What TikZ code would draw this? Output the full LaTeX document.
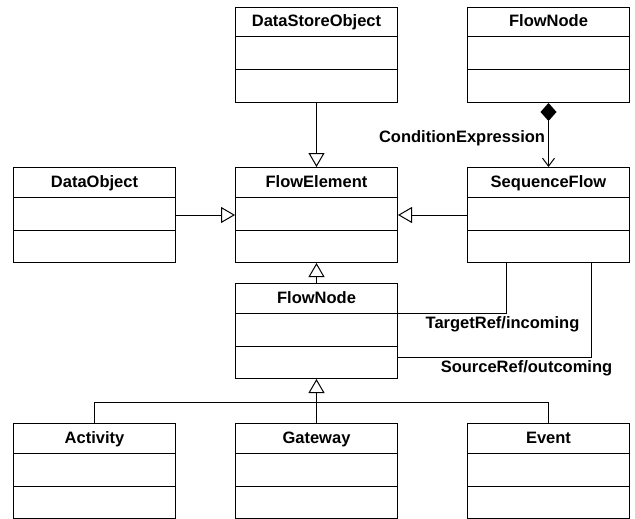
\documentclass[tikz,border=0pt]{standalone}
\usepackage{fontspec}
\setmainfont{Liberation Sans}
\usetikzlibrary{arrows.meta}
\tikzset{
  classbox/.style={draw, line width=1pt, minimum width=162pt, minimum height=95pt,
    inner sep=0pt, anchor=north west, fill=white},
  classtitle/.style={font=\bfseries\fontsize{16.5}{19}\selectfont, inner sep=0pt,
    text height=12pt, text depth=2pt},
  compline/.style={line width=1pt},
  gen/.style={line width=1pt, -{Triangle[open, length=14pt, width=16pt]}},
  comp/.style={line width=1pt, {Diamond[length=18pt, width=16pt]}-{Straight Barb[length=8pt, width=12pt]}},
  assoc/.style={line width=1pt},
  rolelabel/.style={font=\bfseries\fontsize{16.5}{19}\selectfont, inner sep=3pt},
}
% UML class box: name, left x, top y, title
\newcommand{\umlclass}[4]{%
  \node[classbox] (#1) at (#2,#3) {};
  \node[classtitle] (#1-title) at ([yshift=-15pt]#1.north) {#4};
  \draw[compline] ([yshift=-30pt]#1.north west) -- ([yshift=-30pt]#1.north east);
  \draw[compline] ([yshift=-63pt]#1.north west) -- ([yshift=-63pt]#1.north east);
}
\begin{document}
\begin{tikzpicture}[x=1pt, y=-1pt]
  \useasboundingbox (0,0) rectangle (635,519);

  % classes
  \umlclass{dso}{235}{7}{DataStoreObject}
  \umlclass{fntop}{467}{7}{FlowNode}
  \umlclass{dobj}{13}{167}{DataObject}
  \umlclass{fe}{235}{167}{FlowElement}
  \umlclass{sf}{467}{167}{SequenceFlow}
  \umlclass{fn}{235}{283}{FlowNode}
  \umlclass{act}{13}{423}{Activity}
  \umlclass{gw}{235}{423}{Gateway}
  \umlclass{ev}{467}{423}{Event}

  % generalisations
  \draw[gen] (dso.south) -- (fe.north);
  \draw[gen] (dobj.east) -- (fe.west);
  \draw[gen] (sf.west) -- (fe.east);
  \draw[gen] (fn.north) -- (fe.south);

  \coordinate (bus) at (316,402);
  \draw[gen] (gw.north) -- (fn.south);
  \draw[assoc] (act.north) |- (bus);
  \draw[assoc] (ev.north) |- (bus);

  % composition
  \draw[comp] (fntop.south) -- node[pos=0.55, left, rolelabel] {ConditionExpression} (sf.north);

  % associations to FlowNode
  \draw[assoc] ([xshift=-42pt]sf.south) |- ([yshift=-30pt]fn.north east)
    node[pos=0.5, anchor=north, xshift=-4pt, rolelabel] {TargetRef/incoming};
  \draw[assoc] ([xshift=43pt]sf.south) |- ([yshift=-74pt]fn.north east)
    node[pos=0.5, anchor=north, xshift=-65pt, rolelabel] {SourceRef/outcoming};
\end{tikzpicture}
\end{document}
